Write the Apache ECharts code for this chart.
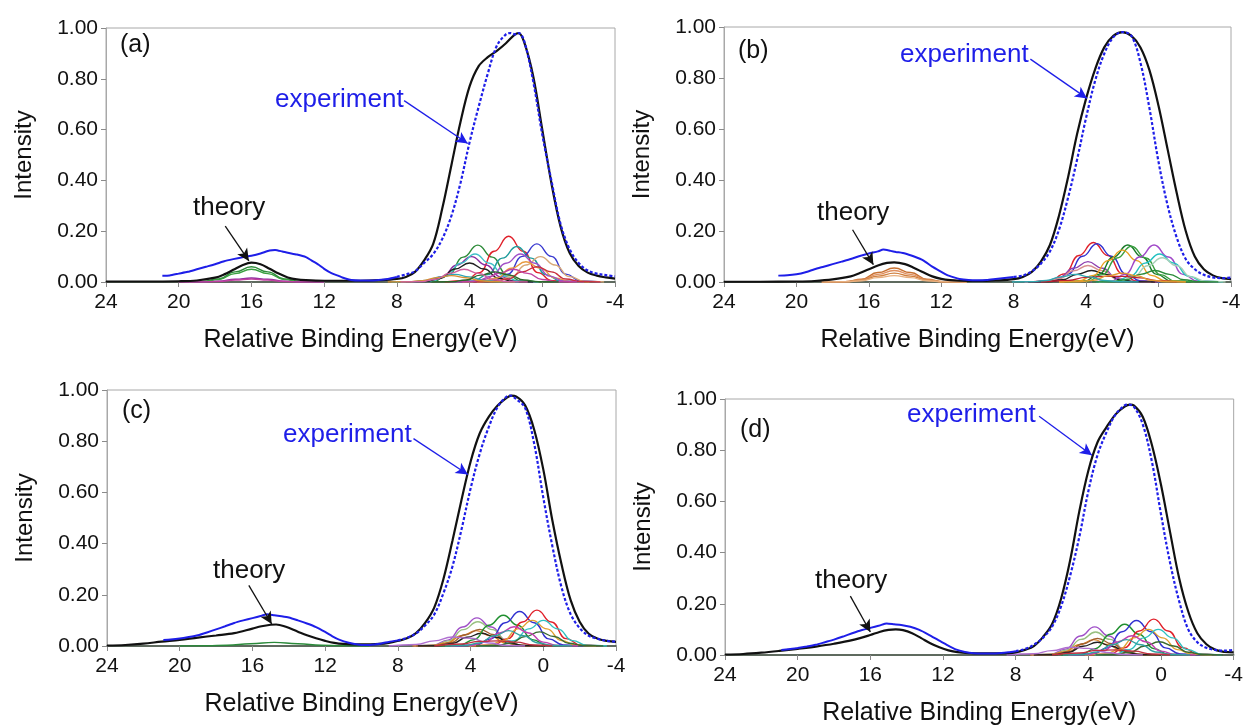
<!DOCTYPE html>
<html><head><meta charset="utf-8">
<script src="https://cdn.jsdelivr.net/npm/echarts/dist/echarts.min.js"></script>
<style>html,body{margin:0;padding:0;background:#fff}#c{width:1246px;height:727px}</style>
</head><body><div id="c"></div><script>
// ---------------- DATA ----------------
const panelTags = ['(a)','(b)','(c)','(d)'];
const xName = 'Relative Binding Energy(eV)';
const yName = 'Intensity';

// experiment curves [eV, intensity]
const expA = [[20.9,0.025],[20.5,0.026],[20,0.033],[19.5,0.04],[19,0.05],[18.5,0.06],[18,0.07],[17.5,0.082],[17,0.09],[16.5,0.097],[16,0.103],[15.5,0.112],[15,0.124],[14.7,0.126],[14.3,0.12],[14,0.115],[13.5,0.108],[13,0.098],[12.7,0.085],[12.3,0.068],[12,0.052],[11.6,0.035],[11.2,0.024],[11,0.018],[10.5,0.008],[10,0.006],[9.5,0.006],[9,0.008],[8.5,0.012],[8,0.02],[7.5,0.03],[7,0.042],[6.5,0.075],[6,0.11],[5.5,0.17],[5,0.26],[4.5,0.39],[4,0.55],[3.5,0.69],[3,0.82],[2.5,0.93],[2,0.975],[1.75,0.98],[1.5,0.975],[1.3,0.98],[1,0.95],[0.5,0.79],[0,0.58],[-0.5,0.4],[-1,0.23],[-1.5,0.13],[-2,0.075],[-2.5,0.045],[-3,0.033],[-3.5,0.027],[-4,0.022]];
const theoA = [[24,0.002],[22,0.002],[20,0.003],[19,0.006],[18,0.017],[17.5,0.03],[17,0.048],[16.5,0.066],[16,0.076],[15.5,0.07],[15,0.052],[14.5,0.033],[14,0.018],[13.5,0.01],[13,0.007],[12,0.005],[11,0.005],[10,0.005],[9,0.007],[8,0.012],[7.5,0.02],[7,0.04],[6.5,0.085],[6,0.15],[5.5,0.29],[5,0.46],[4.5,0.63],[4,0.77],[3.5,0.85],[3,0.885],[2.5,0.91],[2,0.94],[1.5,0.975],[1.3,0.98],[1,0.945],[0.5,0.81],[0,0.6],[-0.5,0.39],[-1,0.22],[-1.5,0.115],[-2,0.063],[-2.5,0.037],[-3,0.025],[-3.5,0.018],[-4,0.013]];

const expB = [[21,0.025],[20.5,0.026],[20,0.03],[19.5,0.038],[19,0.05],[18.5,0.06],[18,0.07],[17.5,0.08],[17,0.09],[16.5,0.102],[16,0.112],[15.5,0.12],[15.2,0.127],[14.8,0.122],[14.5,0.118],[14,0.112],[13.5,0.1],[13,0.085],[12.5,0.06],[12,0.04],[11.7,0.028],[11.3,0.018],[11,0.012],[10.5,0.008],[10,0.007],[9.5,0.008],[9,0.012],[8.5,0.016],[8,0.02],[7.5,0.025],[7,0.042],[6.5,0.072],[6,0.12],[5.5,0.205],[5,0.33],[4.5,0.48],[4,0.645],[3.5,0.79],[3,0.895],[2.5,0.96],[2,0.98],[1.5,0.965],[1,0.86],[0.5,0.68],[0,0.47],[-0.5,0.3],[-1,0.175],[-1.5,0.09],[-2,0.05],[-2.5,0.028],[-3,0.018],[-3.5,0.015],[-4,0.017]];
const theoB = [[24,0.001],[22,0.001],[20,0.002],[19,0.004],[18,0.01],[17,0.022],[16.5,0.035],[16,0.05],[15.5,0.065],[15,0.075],[14.6,0.077],[14,0.07],[13.5,0.055],[13,0.038],[12.5,0.022],[12,0.012],[11.5,0.007],[11,0.005],[10,0.004],[9,0.006],[8,0.011],[7.5,0.02],[7,0.04],[6.5,0.08],[6,0.145],[5.5,0.26],[5,0.41],[4.5,0.58],[4,0.72],[3.5,0.835],[3,0.92],[2.5,0.965],[2,0.98],[1.5,0.965],[1,0.92],[0.5,0.83],[0,0.69],[-0.5,0.52],[-1,0.35],[-1.5,0.2],[-2,0.1],[-2.5,0.05],[-3,0.026],[-3.5,0.015],[-4,0.011]];

const expC = [[20.9,0.023],[20.5,0.025],[20,0.029],[19.5,0.035],[19,0.042],[18.5,0.053],[18,0.065],[17.5,0.077],[17,0.09],[16.5,0.1],[16,0.109],[15.5,0.118],[15.2,0.124],[14.8,0.12],[14.4,0.116],[14,0.111],[13.5,0.1],[13,0.088],[12.5,0.074],[12,0.055],[11.6,0.038],[11.2,0.024],[10.7,0.013],[10.2,0.006],[9.8,0.004],[9.3,0.006],[8.9,0.01],[8.5,0.016],[8,0.022],[7.5,0.032],[7,0.049],[6.5,0.08],[6,0.123],[5.5,0.205],[5,0.31],[4.5,0.455],[4,0.615],[3.5,0.75],[3,0.855],[2.5,0.935],[2,0.975],[1.8,0.978],[1.5,0.965],[1,0.93],[0.5,0.79],[0,0.58],[-0.5,0.39],[-1,0.23],[-1.5,0.125],[-2,0.07],[-2.5,0.04],[-3,0.028],[-3.5,0.02],[-4,0.017]];
const theoC = [[24,0.002],[23,0.004],[22,0.009],[21,0.017],[20,0.024],[19,0.033],[18,0.041],[17,0.05],[16,0.068],[15.5,0.077],[15,0.083],[14.7,0.084],[14.2,0.076],[13.5,0.056],[13,0.042],[12.5,0.03],[12,0.02],[11.5,0.012],[11,0.008],[10,0.006],[9,0.008],[8.5,0.012],[8,0.02],[7.5,0.03],[7,0.05],[6.5,0.09],[6,0.15],[5.5,0.26],[5,0.41],[4.5,0.57],[4,0.72],[3.5,0.83],[3,0.895],[2.5,0.94],[2,0.97],[1.75,0.978],[1.5,0.975],[1,0.94],[0.5,0.845],[0,0.69],[-0.5,0.49],[-1,0.32],[-1.5,0.18],[-2,0.095],[-2.5,0.048],[-3,0.028],[-3.5,0.02],[-4,0.016]];

const expD = [[20.9,0.02],[20.5,0.022],[20,0.027],[19.5,0.033],[19,0.04],[18.5,0.05],[18,0.06],[17.5,0.072],[17,0.085],[16.5,0.097],[16,0.106],[15.5,0.115],[15.1,0.123],[14.7,0.12],[14.3,0.117],[13.8,0.11],[13.3,0.098],[12.8,0.08],[12.3,0.06],[11.8,0.04],[11.3,0.022],[10.8,0.012],[10.3,0.007],[9.8,0.006],[9.3,0.006],[8.8,0.008],[8.4,0.011],[8,0.015],[7.5,0.023],[7,0.04],[6.5,0.067],[6,0.11],[5.5,0.19],[5,0.31],[4.5,0.46],[4,0.64],[3.5,0.78],[3,0.87],[2.5,0.94],[2,0.975],[1.85,0.978],[1.5,0.97],[1,0.9],[0.5,0.755],[0,0.55],[-0.5,0.36],[-1,0.21],[-1.5,0.1],[-2,0.05],[-2.5,0.028],[-3,0.02],[-3.5,0.017],[-4,0.02]];
const theoD = [[24,0.002],[23,0.004],[22,0.009],[21,0.016],[20,0.024],[19,0.033],[18,0.044],[17,0.058],[16,0.078],[15.5,0.09],[15,0.098],[14.6,0.1],[14.2,0.097],[13.7,0.085],[13.2,0.066],[12.7,0.046],[12.2,0.03],[11.7,0.018],[11.2,0.011],[10.5,0.007],[10,0.006],[9,0.006],[8.5,0.007],[8,0.01],[7.5,0.02],[7,0.035],[6.5,0.07],[6,0.12],[5.5,0.22],[5,0.37],[4.5,0.56],[4,0.72],[3.5,0.83],[3,0.89],[2.5,0.94],[2,0.97],[1.7,0.978],[1.5,0.975],[1,0.93],[0.5,0.82],[0,0.665],[-0.5,0.48],[-1,0.3],[-1.5,0.17],[-2,0.085],[-2.5,0.042],[-3,0.02],[-3.5,0.012],[-4,0.01]];

// component curves (valence region)
const compA = [
 [[7.05,0],[5.95,0.004],[5.15,0.03],[4.35,0.098],[3.55,0.145],[2.75,0.098],[1.95,0.03],[1.15,0.004],[0.05,0]],
 [[5.35,0],[4.25,0.005],[3.45,0.037],[2.65,0.121],[1.85,0.18],[1.05,0.121],[0.25,0.037],[-0.55,0.005],[-1.65,0]],
 [[4.9,0],[3.8,0.004],[3.0,0.029],[2.2,0.094],[1.4,0.14],[0.6,0.094],[-0.2,0.029],[-1.0,0.004],[-2.1,0]],
 [[3.8,0],[2.7,0.004],[1.9,0.031],[1.1,0.101],[0.3,0.15],[-0.5,0.101],[-1.3,0.031],[-2.1,0.004],[-3.2,0]],
 [[7.4,0],[6.3,0.003],[5.5,0.021],[4.7,0.067],[3.9,0.1],[3.1,0.067],[2.3,0.021],[1.5,0.003],[0.4,0]],
 [[7.2,0],[6.1,0.003],[5.3,0.023],[4.5,0.074],[3.7,0.11],[2.9,0.074],[2.1,0.023],[1.3,0.003],[0.2,0]],
 [[7.5,0],[6.4,0.002],[5.6,0.015],[4.8,0.051],[4.0,0.075],[3.2,0.051],[2.4,0.015],[1.6,0.002],[0.5,0]],
 [[3.6,0],[2.5,0.003],[1.7,0.021],[0.9,0.067],[0.1,0.1],[-0.7,0.067],[-1.5,0.021],[-2.3,0.003],[-3.4,0]],
 [[4.4,0],[3.3,0.002],[2.5,0.016],[1.7,0.054],[0.9,0.08],[0.1,0.054],[-0.7,0.016],[-1.5,0.002],[-2.6,0]],
 [[4.7,0],[3.6,0.003],[2.8,0.023],[2.0,0.074],[1.2,0.11],[0.4,0.074],[-0.4,0.023],[-1.2,0.003],[-2.3,0]],
 [[3.8,0],[2.7,0.002],[1.9,0.012],[1.1,0.04],[0.3,0.06],[-0.5,0.04],[-1.3,0.012],[-2.1,0.002],[-3.2,0]],
 [[5.1,0],[4.0,0.001],[3.2,0.01],[2.4,0.034],[1.6,0.05],[0.8,0.034],[0,0.01],[-0.8,0.001],[-1.9,0]],
 [[8.3,0],[7.2,0.001],[6.4,0.006],[5.6,0.02],[4.8,0.03],[4.0,0.02],[3.2,0.006],[2.4,0.001],[1.3,0]],
 [[8.5,0],[7.4,0.001],[6.6,0.005],[5.8,0.017],[5.0,0.025],[4.2,0.017],[3.4,0.005],[2.6,0.001],[1.5,0]],
 [[6.1,0],[5.0,0.001],[4.2,0.008],[3.4,0.027],[2.6,0.04],[1.8,0.027],[1.0,0.008],[0.2,0.001],[-0.9,0]],
 [[7.8,0],[6.7,0.001],[5.9,0.01],[5.1,0.034],[4.3,0.05],[3.5,0.034],[2.7,0.01],[1.9,0.001],[0.8,0]]
];
const compALow = [
 [[20,0],[18.7,0.002],[17.8,0.012],[16.9,0.04],[16,0.06],[15.1,0.04],[14.2,0.012],[13.3,0.002],[12,0]],
 [[20,0],[18.7,0.001],[17.8,0.01],[16.9,0.033],[16,0.05],[15.1,0.033],[14.2,0.01],[13.3,0.001],[12,0]],
 [[20,0],[18.7,0],[17.8,0.003],[16.9,0.011],[16,0.016],[15.1,0.011],[14.2,0.003],[13.3,0],[12,0]],
 [[20,0],[18.7,0],[17.8,0.002],[16.9,0.008],[16,0.012],[15.1,0.008],[14.2,0.002],[13.3,0],[12,0]]
];
const compB = [
 [[7.1,0],[6.0,0.004],[5.2,0.032],[4.4,0.104],[3.6,0.155],[2.8,0.104],[2.0,0.032],[1.2,0.004],[0.1,0]],
 [[6.9,0],[5.8,0.004],[5.0,0.031],[4.2,0.101],[3.4,0.15],[2.6,0.101],[1.8,0.031],[1.0,0.004],[-0.1,0]],
 [[7.4,0],[6.3,0.002],[5.5,0.016],[4.7,0.054],[3.9,0.08],[3.1,0.054],[2.3,0.016],[1.5,0.002],[0.4,0]],
 [[7.4,0],[6.3,0.002],[5.5,0.013],[4.7,0.044],[3.9,0.065],[3.1,0.044],[2.3,0.013],[1.5,0.002],[0.4,0]],
 [[7.2,0],[6.1,0.001],[5.3,0.009],[4.5,0.03],[3.7,0.045],[2.9,0.03],[2.1,0.009],[1.3,0.001],[0.2,0]],
 [[5.2,0],[4.1,0.004],[3.3,0.03],[2.5,0.098],[1.7,0.145],[0.9,0.098],[0.1,0.03],[-0.7,0.004],[-1.8,0]],
 [[5.0,0],[3.9,0.004],[3.1,0.029],[2.3,0.094],[1.5,0.14],[0.7,0.094],[-0.1,0.029],[-0.9,0.004],[-2.0,0]],
 [[5.5,0],[4.4,0.004],[3.6,0.026],[2.8,0.084],[2.0,0.125],[1.2,0.084],[0.4,0.026],[-0.4,0.004],[-1.5,0]],
 [[3.75,0],[2.65,0.004],[1.85,0.03],[1.05,0.098],[0.25,0.145],[-0.55,0.098],[-1.35,0.03],[-2.15,0.004],[-3.25,0]],
 [[3.45,0],[2.35,0.003],[1.55,0.023],[0.75,0.074],[-0.05,0.11],[-0.85,0.074],[-1.65,0.023],[-2.45,0.003],[-3.55,0]],
 [[3.3,0],[2.2,0.003],[1.4,0.02],[0.6,0.064],[-0.2,0.095],[-1.0,0.064],[-1.8,0.02],[-2.6,0.003],[-3.7,0]],
 [[3.7,0],[2.6,0.001],[1.8,0.009],[1.0,0.03],[0.2,0.045],[-0.6,0.03],[-1.4,0.009],[-2.2,0.001],[-3.3,0]],
 [[6.5,0],[5.0,0.006],[4.0,0.018],[3.0,0.022],[2.0,0.022],[1.0,0.016],[0,0.004],[-1.0,0]],
 [[5.5,0],[4.4,0.001],[3.6,0.007],[2.8,0.024],[2.0,0.035],[1.2,0.024],[0.4,0.007],[-0.4,0.001],[-1.5,0]],
 [[8.1,0],[7.0,0.001],[6.2,0.006],[5.4,0.02],[4.6,0.03],[3.8,0.02],[3.0,0.006],[2.2,0.001],[1.1,0]]
];
const compBLow = [
 [[18.6,0],[17.3,0.001],[16.4,0.011],[15.5,0.037],[14.6,0.055],[13.7,0.037],[12.8,0.011],[11.9,0.001],[10.6,0]],
 [[18.6,0],[17.3,0.001],[16.4,0.009],[15.5,0.03],[14.6,0.045],[13.7,0.03],[12.8,0.009],[11.9,0.001],[10.6,0]],
 [[18.6,0],[17.3,0.001],[16.4,0.007],[15.5,0.023],[14.6,0.035],[13.7,0.023],[12.8,0.007],[11.9,0.001],[10.6,0]],
 [[18.6,0],[17.3,0.001],[16.4,0.005],[15.5,0.017],[14.6,0.025],[13.7,0.017],[12.8,0.005],[11.9,0.001],[10.6,0]]
];
const compC = [
 [[7.15,0],[6.05,0.003],[5.25,0.023],[4.45,0.074],[3.65,0.11],[2.85,0.074],[2.05,0.023],[1.25,0.003],[0.15,0]],
 [[7.1,0],[6.0,0.003],[5.2,0.02],[4.4,0.064],[3.6,0.095],[2.8,0.064],[2.0,0.02],[1.2,0.003],[0.1,0]],
 [[7.2,0],[6.1,0.002],[5.3,0.012],[4.5,0.04],[3.7,0.06],[2.9,0.04],[2.1,0.012],[1.3,0.002],[0.2,0]],
 [[7.0,0],[5.9,0.002],[5.1,0.013],[4.3,0.044],[3.5,0.065],[2.7,0.044],[1.9,0.013],[1.1,0.002],[0,0]],
 [[6.9,0],[5.8,0.001],[5.0,0.01],[4.2,0.034],[3.4,0.05],[2.6,0.034],[1.8,0.01],[1.0,0.001],[-0.1,0]],
 [[5.7,0],[4.6,0.003],[3.8,0.025],[3.0,0.081],[2.2,0.12],[1.4,0.081],[0.6,0.025],[-0.2,0.003],[-1.3,0]],
 [[4.8,0],[3.7,0.004],[2.9,0.028],[2.1,0.091],[1.3,0.135],[0.5,0.091],[-0.3,0.028],[-1.1,0.004],[-2.2,0]],
 [[3.85,0],[2.75,0.004],[1.95,0.029],[1.15,0.094],[0.35,0.14],[-0.45,0.094],[-1.25,0.029],[-2.05,0.004],[-3.15,0]],
 [[4.1,0],[3.0,0.003],[2.2,0.021],[1.4,0.067],[0.6,0.1],[-0.2,0.067],[-1.0,0.021],[-1.8,0.003],[-2.9,0]],
 [[3.5,0],[2.4,0.003],[1.6,0.021],[0.8,0.067],[0,0.1],[-0.8,0.067],[-1.6,0.021],[-2.4,0.003],[-3.5,0]],
 [[3.7,0],[2.6,0.002],[1.8,0.011],[1.0,0.037],[0.2,0.055],[-0.6,0.037],[-1.4,0.011],[-2.2,0.002],[-3.3,0]],
 [[5.1,0],[4.0,0.002],[3.2,0.015],[2.4,0.051],[1.6,0.075],[0.8,0.051],[0,0.015],[-0.8,0.002],[-1.9,0]],
 [[5.4,0],[4.3,0.002],[3.5,0.012],[2.7,0.04],[1.9,0.06],[1.1,0.04],[0.3,0.012],[-0.5,0.002],[-1.6,0]],
 [[8.5,0],[7.0,0.006],[6.0,0.02],[5.0,0.035],[4.0,0.03],[3.0,0.012],[2.0,0.002],[1.0,0]],
 [[6.0,0],[4.5,0.008],[3.5,0.018],[2.5,0.02],[1.5,0.015],[0.5,0.004],[-0.5,0]]
];
const compCLow = [
 [[20,0],[18.5,0.001],[17.4,0.003],[16.1,0.009],[14.8,0.014],[13.5,0.009],[12.2,0.003],[11.1,0.001],[9.6,0]]
];
const compD = [
 [[7.15,0],[6.05,0.003],[5.25,0.023],[4.45,0.074],[3.65,0.11],[2.85,0.074],[2.05,0.023],[1.25,0.003],[0.15,0]],
 [[7.1,0],[6.0,0.003],[5.2,0.019],[4.4,0.061],[3.6,0.09],[2.8,0.061],[2.0,0.019],[1.2,0.003],[0.1,0]],
 [[7.2,0],[6.1,0.002],[5.3,0.012],[4.5,0.04],[3.7,0.06],[2.9,0.04],[2.1,0.012],[1.3,0.002],[0.2,0]],
 [[7.0,0],[5.9,0.002],[5.1,0.013],[4.3,0.044],[3.5,0.065],[2.7,0.044],[1.9,0.013],[1.1,0.002],[0,0]],
 [[7.0,0],[5.9,0.001],[5.1,0.01],[4.3,0.034],[3.5,0.05],[2.7,0.034],[1.9,0.01],[1.1,0.001],[0,0]],
 [[5.5,0],[4.4,0.003],[3.6,0.025],[2.8,0.081],[2.0,0.12],[1.2,0.081],[0.4,0.025],[-0.4,0.003],[-1.5,0]],
 [[4.85,0],[3.75,0.004],[2.95,0.028],[2.15,0.091],[1.35,0.135],[0.55,0.091],[-0.25,0.028],[-1.05,0.004],[-2.15,0]],
 [[3.9,0],[2.8,0.004],[2.0,0.029],[1.2,0.094],[0.4,0.14],[-0.4,0.094],[-1.2,0.029],[-2.0,0.004],[-3.1,0]],
 [[4.2,0],[3.1,0.003],[2.3,0.021],[1.5,0.067],[0.7,0.1],[-0.1,0.067],[-0.9,0.021],[-1.7,0.003],[-2.8,0]],
 [[3.65,0],[2.55,0.003],[1.75,0.021],[0.95,0.067],[0.15,0.1],[-0.65,0.067],[-1.45,0.021],[-2.25,0.003],[-3.35,0]],
 [[3.6,0],[2.5,0.002],[1.7,0.011],[0.9,0.035],[0.1,0.052],[-0.7,0.035],[-1.5,0.011],[-2.3,0.002],[-3.4,0]],
 [[5.1,0],[4.0,0.002],[3.2,0.015],[2.4,0.051],[1.6,0.075],[0.8,0.051],[0,0.015],[-0.8,0.002],[-1.9,0]],
 [[5.4,0],[4.3,0.002],[3.5,0.012],[2.7,0.04],[1.9,0.06],[1.1,0.04],[0.3,0.012],[-0.5,0.002],[-1.6,0]],
 [[8.5,0],[7.0,0.005],[6.0,0.017],[5.0,0.03],[4.0,0.026],[3.0,0.01],[2.0,0.002],[1.0,0]],
 [[6.0,0],[4.5,0.008],[3.5,0.018],[2.5,0.02],[1.5,0.015],[0.5,0.004],[-0.5,0]]
];
const compDLow = [];

// annotation arrows [fromEV, fromI, toEV, toI]
const expArrows = [[7.6,0.714,4.1,0.545],[7.08,0.874,3.95,0.72],[7.14,0.81,4.15,0.67],[6.71,0.933,3.8,0.78]];
const theoArrows = [[17.44,0.22,16.14,0.083],[16.9,0.205,15.75,0.068],[16.2,0.237,14.94,0.086],[17.1,0.23,16.0,0.09]];

// ---------------- STYLE / LAYOUT ----------------
const colA = ['#2e8b3a','#e0202a','#1f9c9c','#3a3ad0','#8a2ba0','#40c0c8','#202020','#d8a878','#e89a40','#a050c8','#c83040','#c040a0','#30a8b8','#d89030','#2a6a2a','#d060a0'];
const colALow = ['#2e8b3a','#3aa040','#8a2ba0','#c040a0'];
const colB = ['#e0202a','#3030d0','#9040b0','#d89090','#202020','#1a7a2a','#3aa040','#e8a020','#a048c8','#20c0c0','#a8d0b8','#2a8a3a','#c02030','#e09a30','#30a8b0'];
const colBLow = ['#c87030','#e09060','#d08040','#e8b080'];
const colC = ['#a050c8','#98c080','#e08020','#a06030','#202020','#209030','#3030d0','#e0202a','#e0a030','#30c0c0','#3a6a30','#c040b0','#30a0a0','#b070d0','#c03040'];
const colCLow = ['#2a8a3a'];

const grids = [
  {left:106, top:28, width:509, height:254},
  {left:724, top:27, width:507, height:255},
  {left:107, top:390, width:509, height:256},
  {left:725, top:399, width:511, height:256}
];
const tagPos = [[120,47],[738,53],[122,413],[740,432]];
const expTextPos = [[275,102],[900,57],[283,437],[907,417]];
const theoTextPos = [[193,210],[817,215],[213,573],[815,583]];

const FONT = '"Liberation Sans", Arial, sans-serif';
const BLUE = '#1e1ee8';

const exps = [expA, expB, expC, expD];
const theos = [theoA, theoB, theoC, theoD];
const comps = [compA, compB, compC, compD];
const compsLow = [compALow, compBLow, compCLow, compDLow];
const cols = [colA, colB, colC, colC];
const colsLow = [colALow, colBLow, colCLow, colCLow];

const chart = echarts.init(document.getElementById('c'), null, {renderer:'canvas'});
const xAxes = [], yAxes = [], series = [], graphics = [];
grids.forEach((g, i) => {
  xAxes.push({
    gridIndex:i, type:'value', min:-4, max:24, interval:4, inverse:true,
    axisLine:{show:true, onZero:false, lineStyle:{color:'#384838', width:1.5}},
    axisTick:{show:true, length:5, lineStyle:{color:'#8a8a8a'}},
    axisLabel:{fontSize:21, color:'#111', margin:10, fontFamily:FONT, showMinLabel:true, showMaxLabel:true},
    splitLine:{show:false},
    name:xName, nameLocation:'middle', nameGap:46,
    nameTextStyle:{fontSize:25, color:'#111', fontFamily:FONT}
  });
  yAxes.push({
    gridIndex:i, type:'value', min:0, max:1, interval:0.2,
    axisLine:{show:true, onZero:false, lineStyle:{color:'#a8a8a8', width:1}},
    axisTick:{show:true, length:5, lineStyle:{color:'#8a8a8a'}},
    axisLabel:{fontSize:21, color:'#111', margin:8, fontFamily:FONT, formatter:v=>v.toFixed(2)},
    splitLine:{show:false},
    name:yName, nameLocation:'middle', nameGap:70,
    nameTextStyle:{fontSize:24, color:'#111', fontFamily:FONT}
  });
  const allComps = compsLow[i].map((c,k)=>[c, colsLow[i][k]]).concat(comps[i].map((c,k)=>[c, cols[i][k % cols[i].length]]));
  allComps.forEach(([data,color]) => {
    series.push({type:'line', xAxisIndex:i, yAxisIndex:i, data:data, showSymbol:false, smooth:0.5, smoothMonotone:'x',
      lineStyle:{color:color, width:1.4}, silent:true, animation:false, z:2});
  });
  const ta = theoArrows[i];
  series.push({type:'line', xAxisIndex:i, yAxisIndex:i, data:theos[i], showSymbol:false, smooth:0.35,
    lineStyle:{color:'#111', width:2.2}, silent:true, animation:false, z:3,
    markLine:{silent:true, animation:false, symbol:['none','arrow'], symbolSize:[9,12], label:{show:false},
      lineStyle:{color:'#111', width:1.3, type:'solid'},
      data:[[{coord:[ta[0],ta[1]]},{coord:[ta[2],ta[3]]}]]}
  });
  const e = exps[i];
  const lowPart = e.filter(p => p[0] >= 8);
  const highPart = e.filter(p => p[0] <= 8);
  const ea = expArrows[i];
  series.push({type:'line', xAxisIndex:i, yAxisIndex:i, data:lowPart, showSymbol:false, smooth:0.2,
    lineStyle:{color:BLUE, width:2}, silent:true, animation:false, z:4});
  series.push({type:'line', xAxisIndex:i, yAxisIndex:i, data:highPart, showSymbol:false, smooth:0.35,
    lineStyle:{color:BLUE, width:2.2, type:[3,2]}, silent:true, animation:false, z:4,
    markLine:{silent:true, animation:false, symbol:['none','arrow'], symbolSize:[9,12], label:{show:false},
      lineStyle:{color:BLUE, width:1.3, type:'solid'},
      data:[[{coord:[ea[0],ea[1]]},{coord:[ea[2],ea[3]]}]]}
  });
  graphics.push({type:'text', left:tagPos[i][0], top:tagPos[i][1]-14, silent:true,
    style:{text:panelTags[i], fontSize:25, fill:'#111', fontFamily:FONT}});
  graphics.push({type:'text', left:expTextPos[i][0], top:expTextPos[i][1]-15, silent:true,
    style:{text:'experiment', fontSize:26, fill:BLUE, fontFamily:FONT}});
  graphics.push({type:'text', left:theoTextPos[i][0], top:theoTextPos[i][1]-15, silent:true,
    style:{text:'theory', fontSize:26, fill:'#111', fontFamily:FONT}});
});

chart.setOption({
  animation:false,
  backgroundColor:'#fff',
  grid: grids.map(g => Object.assign({show:true, borderColor:'#a8a8a8', borderWidth:1, containLabel:false}, g)),
  xAxis:xAxes, yAxis:yAxes, series:series, graphic:graphics
});
</script></body></html>
